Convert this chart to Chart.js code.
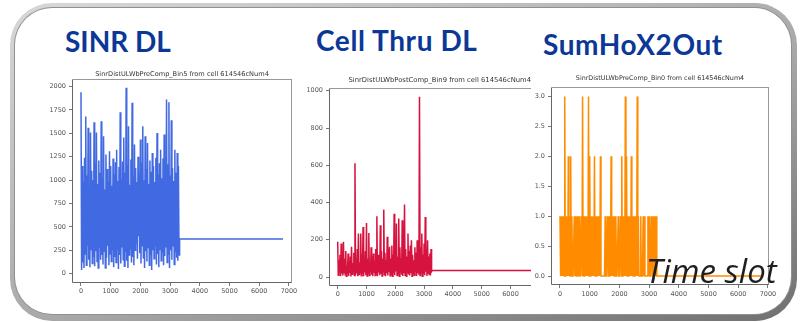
<!DOCTYPE html>
<html><head><meta charset="utf-8">
<script src="https://cdn.jsdelivr.net/npm/chart.js@4.4.1/dist/chart.umd.min.js"></script>
<style>
html,body{margin:0;padding:0;background:#fff;width:800px;height:322px;overflow:hidden;position:relative}
.frame-outer{position:absolute;left:10px;top:3px;width:787px;height:318px;box-sizing:border-box;border-radius:42px;background:linear-gradient(160deg,#d8d8d8,#a8a8a8 55%,#707070);}
.frame-inner{position:absolute;left:5px;top:5px;right:6px;bottom:7px;border-radius:37px;background:#fff;box-shadow:0 0 0 1px #909090;}
.big{position:absolute;font-family:Lato,sans-serif;font-weight:700;font-size:28px;line-height:1;color:#0b3896;white-space:nowrap}
canvas{position:absolute}
.ts{position:absolute;font-family:'Open Sans',sans-serif;font-style:italic;font-size:33px;line-height:1;color:#1e1e1e;white-space:nowrap;z-index:5}
</style></head><body>
<div class="frame-outer"><div class="frame-inner"></div></div>
<div class="big" id="t1" style="left:65px;top:27px">SINR DL</div>
<div class="big" id="t2" style="left:316px;top:26px;letter-spacing:0.6px">Cell Thru DL</div>
<div class="big" id="t3" style="left:543px;top:30px;letter-spacing:0.6px">SumHoX2Out</div>
<canvas id="c1" width="264" height="230" style="left:40px;top:71px"></canvas>
<canvas id="c2" width="234" height="227" style="left:297px;top:77px"></canvas>
<canvas id="c3" width="262" height="228" style="left:519px;top:75px"></canvas>
<div class="ts" style="left:646px;top:254px">Time slot</div>
<script>
// ---- data ----
const SLOT_STEP = 20; // time slots between successive samples

const sinrDL = [
1939,40, 1150,120, 980,60, 1240,210, 1679,90, 1050,300, 1561,150, 920,70, 1508,260, 1100,110,
1000,180, 1618,80, 1180,240, 1508,130, 960,60, 1210,280, 1080,150, 1629,200, 1020,100, 1469,240,
900,60, 1273,170, 1120,300, 980,90, 1308,210, 1150,130, 940,250, 1230,70, 1060,180, 1190,120,
1326,260, 990,50, 1140,200, 1725,110, 1010,280, 1200,150, 1455,80, 1080,230, 1986,140, 1160,60,
1575,200, 950,270, 1220,120, 1826,180, 1040,90, 1380,250, 1130,330, 980,160, 1250,400, 1070,220,
1433,110, 1190,300, 1575,170, 1000,60, 1469,240, 1120,130, 1398,280, 960,90, 1210,200, 1090,40,
1291,250, 1150,160, 980,300, 1240,100, 1505,210, 1060,70, 1180,260, 1326,140, 1020,230, 1230,90,
1487,190, 1100,280, 1861,120, 1170,210, 1832,60, 1050,250, 1640,150, 1130,300, 990,100, 1326,230,
1080,170, 1291,140, 1150,200
];
const sinrTail = 370, sinrTailEnd = 6800;

const cellThruDL = [
189,10, 90,30, 120,5, 180,20, 70,8, 189,25, 100,12, 140,4, 60,18, 127,6,
85,22, 110,3, 162,15, 75,28, 130,8, 611,10, 95,20, 150,5, 234,14, 80,26,
234,7, 120,18, 269,4, 90,24, 140,10, 290,6, 100,20, 237,9, 70,30, 160,12,
110,5, 127,22, 90,8, 150,16, 326,4, 120,25, 80,10, 278,18, 140,6, 100,28,
362,12, 130,5, 90,20, 216,9, 150,26, 162,7, 100,15, 170,4, 120,22, 340,10,
140,30, 287,8, 110,18, 314,5, 160,24, 100,12, 305,6, 130,20, 389,10, 150,4,
110,26, 234,14, 140,8, 170,22, 198,5, 120,18, 90,10, 160,28, 130,6, 198,20,
140,12, 968,8, 160,24, 234,5, 120,16, 180,10, 322,28, 150,6, 198,20, 110,14,
127,8, 150,30
];
const cellThruTail = 35, cellThruTailEnd = 6750;

const sumHoX2Out = [
1,0,1,0,1,0,1,0,3,0,1,0,1,0,2,0,1,0,2,0,
1,0,0,0,1,0,1,0,1,0,1,0,1,0,0,0,1,0,3,0,
1,0,1,0,1,0,1,0,3,0,2,0,1,0,1,0,1,0,2,0,
1,0,1,0,1,0,1,0,2,0,0,0,0,0,0,0,1,0,0,0,
1,0,1,0,1,0,2,0,1,0,1,0,1,0,1,0,0,0,1,0,
0,0,1,0,2,0,1,0,1,0,3,0,2,0,1,0,1,0,1,0,
2,0,1,0,1,0,1,0,1,0,3,0,1,0,0,0,1,0,0,0,
1,0,1,0,0,0,0,0,1,0,1,0,0,0,1,0,1,0,1,0,
1,0,1,0
];
const sumHoTail = 0, sumHoTailEnd = 6800;

const xTicks7000 = [0,1000,2000,3000,4000,5000,6000,7000];
const xTicks6000 = [0,1000,2000,3000,4000,5000,6000];
const sinrYTicks = [0,250,500,750,1000,1250,1500,1750,2000];
const thruYTicks = [0,200,400,600,800,1000];
const hoYTicks = [0,0.5,1,1.5,2,2.5,3];

const smallTitles = [
  'SinrDistULWbPreComp_Bin5 from cell 614546cNum4',
  'SinrDistULWbPostComp_Bin9 from cell 614546cNum4',
  'SinrDistULWbPreComp_Bin0 from cell 614546cNum4'
];

// ---- helpers ----
function toPoints(values, tailValue, tailEnd){
  const pts = values.map((v,i)=>({x:i*SLOT_STEP, y:v}));
  pts.push({x:values.length*SLOT_STEP, y:tailValue});
  pts.push({x:tailEnd, y:tailValue});
  return pts;
}

const spines = {
  id:'spines',
  afterDraw(chart, args, o){
    const {ctx, chartArea:a} = chart;
    const L=Math.round(a.left)+0.5, R=Math.round(a.right)-0.5, T=Math.round(a.top)+0.5, B=Math.round(a.bottom)-0.5;
    ctx.save(); ctx.lineWidth=1;
    const seg=(x1,y1,x2,y2,c)=>{ctx.strokeStyle=c;ctx.beginPath();ctx.moveTo(x1,y1);ctx.lineTo(x2,y2);ctx.stroke();};
    if(o.left) seg(L,T,L,B,o.dark);
    if(o.bottom) seg(L,B,R+0.5,B,o.dark);
    if(o.top) seg(L,T,R+0.5,T,o.light);
    if(o.right) seg(R,T,R,B,o.light);
    ctx.restore();
  }
};

const tickFont = {family:'DejaVu Sans', size:6.5};
function makeChart(id, c){
  return new Chart(document.getElementById(id), {
    type:'line',
    data:{datasets:[{data:c.points, borderColor:c.color, borderWidth:1.5, pointRadius:0, fill:false, tension:0}]},
    options:{
      responsive:false, animation:false, devicePixelRatio:1, parsing:false, normalized:true,
      layout:{padding:{left:0,right:c.padRight,top:0,bottom:0}},
      plugins:{
        legend:{display:false}, tooltip:{enabled:false},
        title:{display:true, text:c.title, align:c.titleAlign, fullSize:false, color:'#333',
               font:{family:'DejaVu Sans', size:c.titleSize, lineHeight:1, weight:'normal'},
               padding:{top:0,bottom:c.titlePad}},
        spines:{left:true,bottom:true,top:true,right:c.rightSpine,dark:'#666',light:'#999'}
      },
      scales:{
        x:{type:'linear', min:c.xMin, max:c.xMax,
           afterBuildTicks:s=>{s.ticks=c.xTicks.map(v=>({value:v}));},
           afterFit:s=>{s.height=18;},
           ticks:{font:tickFont, color:'#555', padding:c.xPad, maxRotation:0, autoSkip:false, callback:v=>String(v)},
           grid:{display:true, drawOnChartArea:false, drawTicks:true, tickLength:3, color:'#777'},
           border:{display:false}},
        y:{type:'linear', min:c.yMin, max:c.yMax,
           afterBuildTicks:s=>{s.ticks=c.yTicks.map(v=>({value:v}));},
           afterFit:s=>{s.width=32;},
           ticks:{font:tickFont, color:'#555', padding:3, autoSkip:false, callback:c.yFmt},
           grid:{display:true, drawOnChartArea:false, drawTicks:true, tickLength:3, color:'#777'},
           border:{display:false}}
      }
    },
    plugins:[spines]
  });
}

makeChart('c1', {points:toPoints(sinrDL,sinrTail,sinrTailEnd), color:'#4169e1', padRight:12,
  title:smallTitles[0], titleAlign:'center', titleSize:6.6, titlePad:1, rightSpine:true,
  xMin:-303, xMax:7104, xTicks:xTicks7000, xPad:1,
  yMin:-99, yMax:2085, yTicks:sinrYTicks, yFmt:v=>String(v)});
makeChart('c2', {points:toPoints(cellThruDL,cellThruTail,cellThruTailEnd), color:'#d6123e', padRight:0,
  title:smallTitles[1], titleAlign:'end', titleSize:6.8, titlePad:4, rightSpine:false,
  xMin:-302, xMax:6712, xTicks:xTicks6000, xPad:1,
  yMin:-48, yMax:1016, yTicks:thruYTicks, yFmt:v=>String(v)});
makeChart('c3', {points:toPoints(sumHoX2Out,sumHoTail,sumHoTailEnd), color:'#ff8c00', padRight:12,
  title:smallTitles[2], titleAlign:'center', titleSize:6.4, titlePad:6, rightSpine:true,
  xMin:-303, xMax:7037, xTicks:xTicks7000, xPad:2,
  yMin:-0.15, yMax:3.15, yTicks:hoYTicks, yFmt:v=>Number(v).toFixed(1)});
</script>
</body></html>
